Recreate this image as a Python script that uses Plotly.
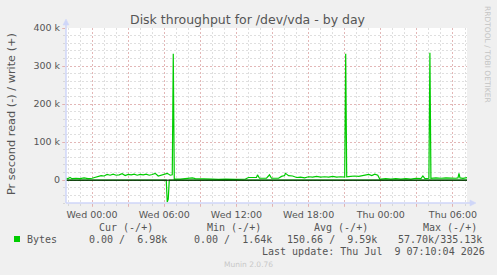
import plotly.graph_objects as go

# ---------------- data ----------------
WRITE_TIMES = [
    "2026-07-07 21:50", "2026-07-07 22:00", "2026-07-07 22:10", "2026-07-07 22:20",
    "2026-07-07 22:40", "2026-07-07 23:00", "2026-07-07 23:20", "2026-07-07 23:40",
    "2026-07-08 00:00", "2026-07-08 00:15", "2026-07-08 00:30", "2026-07-08 00:45",
    "2026-07-08 01:00", "2026-07-08 01:15", "2026-07-08 01:30", "2026-07-08 01:45",
    "2026-07-08 02:00", "2026-07-08 02:15", "2026-07-08 02:30", "2026-07-08 02:45",
    "2026-07-08 03:00", "2026-07-08 03:15", "2026-07-08 03:30", "2026-07-08 03:45",
    "2026-07-08 04:00", "2026-07-08 04:15", "2026-07-08 04:30", "2026-07-08 04:45",
    "2026-07-08 05:00", "2026-07-08 05:15", "2026-07-08 05:30", "2026-07-08 05:45",
    "2026-07-08 06:00", "2026-07-08 06:15", "2026-07-08 06:30", "2026-07-08 06:40",
    "2026-07-08 06:45", "2026-07-08 06:50", "2026-07-08 07:20", "2026-07-08 07:45",
    "2026-07-08 08:00", "2026-07-08 08:20", "2026-07-08 08:35", "2026-07-08 09:25",
    "2026-07-08 10:00", "2026-07-08 10:30", "2026-07-08 11:05", "2026-07-08 11:55",
    "2026-07-08 12:45", "2026-07-08 13:00", "2026-07-08 13:25", "2026-07-08 13:40",
    "2026-07-08 13:45", "2026-07-08 13:55", "2026-07-08 14:30", "2026-07-08 14:45",
    "2026-07-08 14:55", "2026-07-08 15:30", "2026-07-08 15:45", "2026-07-08 16:00",
    "2026-07-08 16:05", "2026-07-08 16:20", "2026-07-08 16:40", "2026-07-08 17:00",
    "2026-07-08 17:20", "2026-07-08 17:40", "2026-07-08 18:00", "2026-07-08 18:20",
    "2026-07-08 18:40", "2026-07-08 19:00", "2026-07-08 19:20", "2026-07-08 19:40",
    "2026-07-08 20:00", "2026-07-08 20:20", "2026-07-08 20:40", "2026-07-08 21:00",
    "2026-07-08 21:05", "2026-07-08 21:10", "2026-07-08 21:30", "2026-07-08 21:50",
    "2026-07-08 22:10", "2026-07-08 22:30", "2026-07-08 22:45", "2026-07-08 23:00",
    "2026-07-08 23:15", "2026-07-08 23:30", "2026-07-08 23:45", "2026-07-08 23:55",
    "2026-07-09 00:00", "2026-07-09 00:25", "2026-07-09 00:50", "2026-07-09 01:15",
    "2026-07-09 01:40", "2026-07-09 02:05", "2026-07-09 02:30", "2026-07-09 02:55",
    "2026-07-09 03:20", "2026-07-09 03:30", "2026-07-09 03:40", "2026-07-09 04:00",
    "2026-07-09 04:05", "2026-07-09 04:10", "2026-07-09 04:35", "2026-07-09 05:00",
    "2026-07-09 05:25", "2026-07-09 05:50", "2026-07-09 06:15", "2026-07-09 06:25",
    "2026-07-09 06:30", "2026-07-09 06:35", "2026-07-09 06:50", "2026-07-09 07:10",
]
WRITE_KB = [
    5, 4, 7, 4,
    5, 4, 6, 4,
    5, 7, 9, 12,
    11, 15, 13, 16,
    13, 14, 17, 12,
    15, 14, 16, 13,
    15, 14, 16, 13,
    15, 18, 11, 14,
    16, 18, 13, 14,
    332, 3, 3, 4,
    6, 6, 4, 4,
    3, 2, 3, 2,
    3, 7, 8, 7,
    14, 5, 5, 14,
    5, 5, 10, 12,
    18, 12, 11, 7,
    8, 6, 9, 8,
    10, 8, 9, 8,
    10, 8, 9, 8,
    332, 9, 10, 11,
    10, 12, 13, 15,
    12, 16, 13, 3,
    3, 4, 3, 4,
    3, 4, 3, 5,
    4, 11, 4, 5,
    335.13, 5, 6, 5,
    6, 5, 5, 6,
    18, 6, 5, 6.98,
]
READ_TIMES = [
    "2026-07-07 21:50", "2026-07-08 06:10", "2026-07-08 06:15",
    "2026-07-08 06:20", "2026-07-08 06:25", "2026-07-09 07:10",
]
READ_KB = [0, 0, 57.70, 50, 0, 0]

X_TICKS = [
    "2026-07-08 00:00", "2026-07-08 03:00", "2026-07-08 06:00", "2026-07-08 09:00",
    "2026-07-08 12:00", "2026-07-08 15:00", "2026-07-08 18:00", "2026-07-08 21:00",
    "2026-07-09 00:00", "2026-07-09 03:00", "2026-07-09 06:00",
]
X_TICK_LABELS = [
    "Wed 00:00", "", "Wed 06:00", "", "Wed 12:00", "", "Wed 18:00", "",
    "Thu 00:00", "", "Thu 06:00",
]
Y_TICKS = [0, 100000, 200000, 300000, 400000]
Y_TICK_LABELS = ["0", "100 k", "200 k", "300 k", "400 k"]

SERIES_NAME = "Bytes"
LEGEND_HEADERS = ["Cur (-/+)", "Min (-/+)", "Avg (-/+)", "Max (-/+)"]
LEGEND_VALUES = ["0.00 /  6.98k", "0.00 /  1.64k", "150.66 /  9.59k", "57.70k/335.13k"]
TITLE = "Disk throughput for /dev/vda - by day"
Y_TITLE = "Pr second read (-) / write (+)"
LAST_UPDATE = "Last update: Thu Jul  9 07:10:04 2026"
FOOTER = "Munin 2.0.76"
WATERMARK = "RRDTOOL / TOBI OETIKER"

# ---------------- style / layout ----------------
W, H = 497, 275
L, R, T, B = 66, 30, 28, 72
PW, PH = W - L - R, H - T - B
GREEN = "#00cc00"
AXIS = "#cfd6f8"
TXT = "#555555"
MGRID = "rgba(230,150,150,0.55)"
GRID = "rgba(185,185,185,0.45)"


def px(x):
    return (x - L) / PW


def py(y):
    return (H - B - y) / PH


fig = go.Figure()
fig.add_trace(go.Scatter(
    x=READ_TIMES, y=[-v * 1000 for v in READ_KB], mode="lines",
    line=dict(color=GREEN, width=1.2), hoverinfo="skip", showlegend=False))
fig.add_trace(go.Scatter(
    x=WRITE_TIMES, y=[v * 1000 for v in WRITE_KB], mode="lines",
    line=dict(color=GREEN, width=1.2), hoverinfo="skip", showlegend=False))

fig.update_layout(
    width=W, height=H,
    margin=dict(l=L, r=R, t=T, b=B, pad=0),
    paper_bgcolor="#f0f0f0", plot_bgcolor="#ffffff",
    font=dict(family="DejaVu Sans", size=9.5, color=TXT),
    showlegend=False,
)
fig.update_xaxes(
    type="date", range=["2026-07-07 21:50", "2026-07-09 07:10"],
    tickmode="array", tickvals=X_TICKS, ticktext=X_TICK_LABELS,
    showgrid=True, gridcolor=MGRID, griddash="2px,2px", gridwidth=1,
    ticks="outside", ticklen=3, tickcolor=MGRID,
    tickfont=dict(family="DejaVu Sans", size=9.5, color=TXT),
    minor=dict(dtick=3600000, tick0="2026-07-08 00:00", showgrid=True,
               gridcolor=GRID, griddash="2px,2px", gridwidth=1,
               ticks="outside", ticklen=2, tickcolor=GRID),
    showline=False, zeroline=False, fixedrange=True,
)
fig.update_yaxes(
    range=[-60000, 400000],
    tickmode="array", tickvals=Y_TICKS, ticktext=Y_TICK_LABELS,
    showgrid=True, gridcolor=MGRID, griddash="2px,2px", gridwidth=1,
    ticks="outside", ticklen=3, tickcolor=MGRID,
    tickfont=dict(family="DejaVu Sans", size=9.5, color=TXT),
    minor=dict(dtick=20000, tick0=0, showgrid=True,
               gridcolor=GRID, griddash="2px,2px", gridwidth=1,
               ticks="outside", ticklen=2, tickcolor=GRID),
    showline=False, zeroline=False, fixedrange=True,
)

shapes = []
# zero line
shapes.append(dict(type="line", xref="paper", yref="y", x0=0, x1=1, y0=0, y1=0,
                   line=dict(color="#000000", width=1), layer="above"))
# axes with arrows
shapes.append(dict(type="line", xref="paper", yref="paper", x0=0, x1=0,
                   y0=py(H - B), y1=py(24), line=dict(color=AXIS, width=1.5), layer="above"))
shapes.append(dict(type="line", xref="paper", yref="paper", x0=px(L), x1=px(471),
                   y0=0, y1=0, line=dict(color=AXIS, width=1.5), layer="above"))
shapes.append(dict(type="path", xref="paper", yref="paper",
                   path=f"M {px(L-3)},{py(25)} L {px(L)},{py(19)} L {px(L+3)},{py(25)} Z",
                   fillcolor=AXIS, line=dict(color=AXIS, width=0.5), layer="above"))
shapes.append(dict(type="path", xref="paper", yref="paper",
                   path=f"M {px(470)},{py(H-B-3)} L {px(476)},{py(H-B)} L {px(470)},{py(H-B+3)} Z",
                   fillcolor=AXIS, line=dict(color=AXIS, width=0.5), layer="above"))
# legend square
shapes.append(dict(type="rect", xref="paper", yref="paper",
                   x0=px(14), x1=px(20), y0=py(242), y1=py(236),
                   fillcolor=GREEN, line=dict(width=0)))
fig.update_layout(shapes=shapes)

ann = []


def text(s, x, y, size, color=TXT, family="DejaVu Sans", xanchor="left", angle=0):
    ann.append(dict(text=s, x=px(x), y=py(y), xref="paper", yref="paper",
                    xanchor=xanchor, yanchor="middle", showarrow=False,
                    textangle=angle, borderpad=0,
                    font=dict(family=family, size=size, color=color)))


text(TITLE, 248, 19.5, 12.5, xanchor="center")
text(Y_TITLE, 11, 114, 11.3, xanchor="center", angle=-90)
text(WATERMARK, 488, 54, 7.5, color="#c4c4c4", xanchor="center", angle=90)

MONO = "DejaVu Sans Mono"
for s, x in zip(LEGEND_HEADERS, [98, 206, 313, 422]):
    text(s, x, 227.5, 10, family=MONO)
text(SERIES_NAME, 26, 239.5, 10, family=MONO)
for s, x in zip(LEGEND_VALUES, [88, 193, 286, 397]):
    text(s.replace(" ", "&nbsp;"), x, 239.5, 10, family=MONO)
text(LAST_UPDATE.replace(" ", "&nbsp;"), 261, 251, 10, family=MONO)
text(FOOTER, 248, 264, 7.5, color="#c8c8c8", xanchor="center")
fig.update_layout(annotations=ann)

fig.write_html("out.html")
